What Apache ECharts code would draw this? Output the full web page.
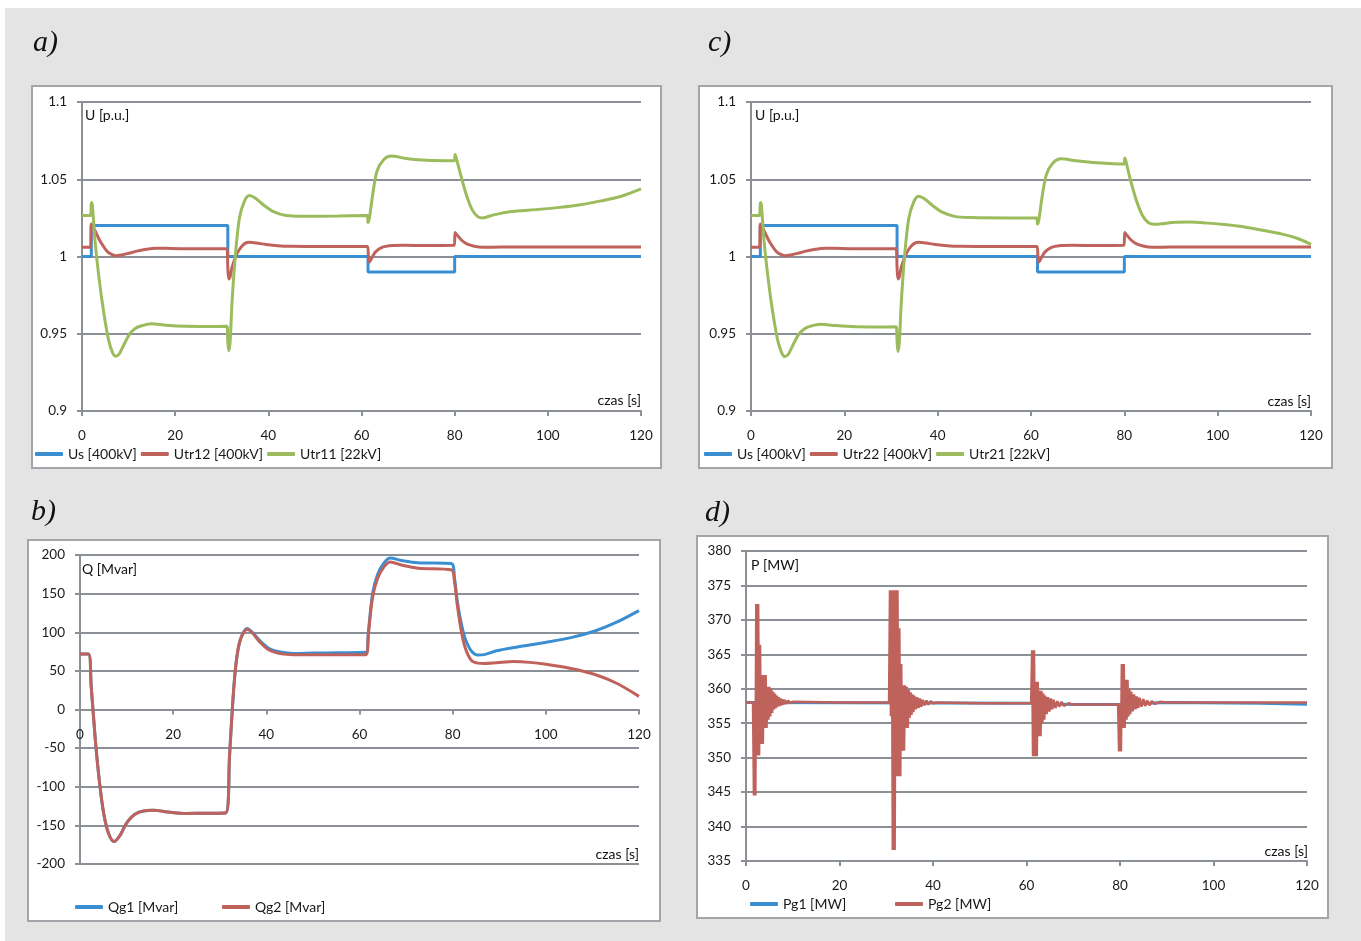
<!DOCTYPE html>
<html><head><meta charset="utf-8">
<script src="https://cdn.jsdelivr.net/npm/echarts@6/dist/echarts.min.js"></script>
<style>html,body{margin:0;padding:0;background:#fff}#c{width:1361px;height:941px}</style>
</head><body><div id="c"></div>
<script>
// ---------- data ----------
const xTicks = [0, 20, 40, 60, 80, 100, 120];
const panelLetters = ['a)', 'b)', 'c)', 'd)'];
const qRange = [-200, 200];

// panel a
const usA = [[0,1.0],[2,1.02],[31.3,1.0],[61.4,0.99],[80,1.0],[120,1.0]];
const utr12 = [[0,1.006],[1.8,1.006],[2.0,1.021],[2.4,1.019],[3,1.0155],[3.7,1.011],[4.5,1.007],[5.5,1.003],[6.5,1.0012],[7.3,1.0005],[8.5,1.001],[10,1.002],[11.5,1.0033],[13.5,1.0046],[16,1.0054],[18,1.0053],[22,1.005],[27,1.005],[31.1,1.005],[31.3,0.993],[31.5,0.9855],[31.8,0.987],[32.2,0.993],[33,1.0],[34,1.0055],[35,1.0085],[36,1.0093],[37.5,1.0087],[39.5,1.0078],[42,1.007],[45,1.0066],[50,1.0065],[55,1.0065],[61.3,1.0065],[61.5,0.999],[61.7,0.9965],[62.2,0.999],[63,1.003],[64.5,1.006],[66,1.007],[69,1.0073],[74,1.0071],[79.9,1.0072],[80.1,1.0155],[80.5,1.014],[81.5,1.0105],[82.5,1.0083],[84,1.0068],[86,1.006],[90,1.0061],[100,1.0062],[110,1.0062],[120,1.0062]];
const utr11 = [[0,1.0265],[1.8,1.0265],[2.0,1.035],[2.2,1.034],[2.8,1.01],[3.7,0.985],[4.6,0.965],[5.7,0.946],[6.6,0.9375],[7.3,0.9355],[8.0,0.937],[8.6,0.9405],[9.5,0.946],[10.4,0.9505],[11.5,0.9535],[12.6,0.955],[14.9,0.9565],[18,0.9555],[22.4,0.9548],[27,0.9547],[31.1,0.9548],[31.3,0.945],[31.5,0.939],[31.8,0.945],[32.2,0.97],[32.9,1.0],[33.8,1.025],[34.9,1.036],[35.9,1.0395],[37.1,1.038],[38.9,1.0335],[41.1,1.029],[43.8,1.0265],[47.3,1.026],[55,1.0262],[61.2,1.0265],[61.4,1.022],[61.7,1.025],[62.4,1.04],[63.3,1.055],[64.7,1.0625],[66.4,1.065],[69.6,1.0635],[74,1.0623],[79.9,1.062],[80.1,1.066],[80.4,1.063],[81.1,1.055],[82.5,1.04],[83.8,1.03],[85.1,1.0255],[86,1.025],[88.2,1.0268],[91.8,1.029],[98,1.0305],[102.5,1.0318],[107,1.0335],[111.4,1.036],[115.8,1.039],[120,1.0437]];

// panel c
const usC = [[0,1.0],[2,1.02],[31.3,1.0],[61.4,0.99],[80,1.0],[120,1.0]];
const utr22 = [[0,1.006],[1.8,1.006],[2.0,1.021],[2.4,1.019],[3,1.0155],[3.7,1.011],[4.5,1.007],[5.5,1.003],[6.5,1.0012],[7.3,1.0005],[8.5,1.001],[10,1.002],[11.5,1.0033],[13.5,1.0046],[16,1.0054],[18,1.0053],[22,1.005],[27,1.005],[31.1,1.005],[31.3,0.993],[31.5,0.9855],[31.8,0.987],[32.2,0.993],[33,1.0],[34,1.0055],[35,1.0085],[36,1.0093],[37.5,1.0087],[39.5,1.0078],[42,1.007],[45,1.0066],[50,1.0065],[55,1.0065],[61.3,1.0065],[61.5,0.999],[61.7,0.9965],[62.2,0.999],[63,1.003],[64.5,1.006],[66,1.007],[69,1.0073],[74,1.0071],[79.9,1.0072],[80.1,1.0155],[80.5,1.014],[81.5,1.0105],[82.5,1.0083],[84,1.0068],[86,1.006],[90,1.0061],[100,1.0062],[110,1.0062],[120,1.0062]];
const utr21 = [[0,1.0265],[1.8,1.0265],[2.0,1.035],[2.2,1.034],[2.8,1.01],[3.7,0.985],[4.6,0.965],[5.7,0.946],[6.6,0.9375],[7.3,0.9352],[8.0,0.9368],[8.6,0.9403],[9.5,0.9458],[10.4,0.9503],[11.5,0.9533],[12.6,0.9548],[14.9,0.9562],[18,0.9553],[22.4,0.9545],[27,0.9544],[31.1,0.9545],[31.3,0.945],[31.5,0.9385],[31.8,0.945],[32.2,0.97],[32.9,1.0],[33.8,1.0245],[34.9,1.0355],[35.9,1.039],[37.1,1.0375],[38.9,1.033],[41.1,1.0285],[43.8,1.0258],[47.3,1.0252],[55,1.025],[61.2,1.025],[61.4,1.021],[61.7,1.024],[62.4,1.039],[63.3,1.053],[64.7,1.0605],[66.4,1.0632],[69.6,1.062],[74,1.0607],[79.9,1.0598],[80.1,1.0638],[80.4,1.061],[81.1,1.052],[82.5,1.037],[83.8,1.027],[85.1,1.022],[86.5,1.0208],[88,1.0212],[91,1.0222],[94,1.0223],[98,1.0216],[102,1.0205],[106,1.019],[110,1.0168],[114,1.0143],[117,1.0118],[120,1.0078]];

// panel b
const qg1 = [[0,72],[1.8,72],[2.4,30],[3.3,-40],[4.2,-95],[5.1,-135],[6.1,-160],[7.3,-171],[8.6,-163],[9.9,-148],[11.7,-136],[13.9,-131],[15.7,-130.5],[19.3,-133],[22.8,-134.5],[27,-134.3],[31.3,-134],[32.1,-60],[32.8,10],[33.5,60],[34.4,90],[35.9,105],[37,100],[38.8,88],[40.6,79],[43.3,74],[45.9,72.5],[50,73],[55,73.5],[61.4,74],[61.9,100],[62.8,150],[63.9,175],[65.3,190],[66.6,196],[69,193],[72.6,190],[79.7,189],[80.4,170],[81,140],[81.9,110],[82.8,90],[84.1,75],[85.4,70.5],[86.8,71],[89.4,76],[93.9,81],[100.1,87],[105.4,93],[110.7,102],[115.2,113],[120,128]];
const qg2 = [[0,72],[1.8,72],[2.4,30],[3.3,-40],[4.2,-95],[5.1,-135],[6.1,-160],[7.3,-171],[8.6,-163],[9.9,-148],[11.7,-136],[13.9,-131],[15.7,-130.5],[19.3,-133],[22.8,-134.5],[27,-134.3],[31.3,-134],[32.1,-60],[32.8,10],[33.5,60],[34.4,90],[35.9,104],[37,99],[38.8,86],[40.6,77],[43.3,72],[45.9,71],[50,71],[55,71],[61.4,71],[61.9,97],[62.8,145],[63.9,170],[65.3,185],[66.6,191],[69,187],[72.6,183],[79.7,181],[80.4,165],[81,135],[81.9,100],[82.8,78],[84.1,63],[85.4,60],[86.8,59.5],[89.4,60.5],[93,62],[96.5,61],[100,58.5],[105.4,53],[110.7,45],[115.2,34],[120,17]];

// panel d
const pg1 = [[0,358],[61,357.9],[70,357.7],[79.6,357.7],[90,358],[110,357.9],[120,357.75]];
const pg2 = [[0,358],[1.5,358],
 [1.7,344.5],[1.9,358],[2.0,344.5],[2.2,372.3],[2.4,350.3],[2.6,372.3],[2.8,350.3],[3.0,366.4],[3.2,352],[3.4,362],[3.6,352],[3.8,362],[4.0,354.3],[4.2,362],[4.4,354.3],[4.6,360.3],[4.8,355.5],[5.0,360.3],[5.2,356],[5.4,360],[5.6,356.5],[5.8,359.6],[6.0,357],[6.2,359.3],[6.4,357.2],[6.6,359],[6.8,357.4],[7.0,358.8],[7.2,357.5],[7.4,358.6],[7.6,357.6],[7.8,358.5],[8.0,357.7],[8.3,358.4],[8.6,357.8],[9.0,358.3],[9.4,357.9],[10,358.1],[20,358],[30.6,358],
 [30.8,374.3],[31.0,356],[31.2,374.3],[31.4,336.6],[31.6,374.3],[31.8,336.6],[32.0,374.3],[32.2,347.3],[32.4,374.3],[32.6,347.3],[32.8,368.8],[33.0,347.3],[33.2,363.6],[33.4,351],[33.6,360.5],[33.8,351],[34.0,360.5],[34.2,354.3],[34.4,360.3],[34.6,354.3],[34.8,359.8],[35.0,355.8],[35.2,359.5],[35.4,356.2],[35.6,359.2],[35.8,356.6],[36.0,359],[36.3,357],[36.6,358.8],[36.9,357.2],[37.2,358.6],[37.5,357.4],[37.8,358.4],[38.2,357.6],[38.6,358.3],[39.0,357.7],[39.5,358.2],[40,357.9],[41,358],[50,357.9],[61,357.9],
 [61.2,365.6],[61.4,350.2],[61.6,365.6],[61.8,350.2],[62.0,361],[62.2,350.2],[62.4,361],[62.6,353.1],[62.8,359.7],[63.0,353.1],[63.2,359.7],[63.4,355],[63.6,359.3],[63.8,355.5],[64.0,359],[64.3,356.3],[64.6,358.8],[64.9,356.7],[65.2,358.6],[65.5,357],[65.8,358.4],[66.2,357.2],[66.6,358.2],[67.0,357.4],[67.5,358.1],[68,357.5],[69,357.9],[70,357.7],[79.6,357.7],
 [79.8,350.9],[80.0,357.7],[80.2,350.9],[80.4,363.6],[80.6,354.3],[80.8,363.6],[81.0,354.3],[81.2,361.3],[81.4,355.5],[81.6,361.3],[81.8,356],[82.0,360],[82.2,356.3],[82.4,359.6],[82.7,356.7],[83.0,359.2],[83.3,357],[83.6,358.9],[83.9,357.2],[84.2,358.7],[84.6,357.4],[85.0,358.5],[85.4,357.5],[85.8,358.3],[86.3,357.6],[86.8,358.2],[87.5,357.8],[88.5,358.1],[90,358],[110,358],[120,358]];

// ---------- styling ----------
const FONT = 'Lato';
const GRIDC = '#8b9097';
const TXT = '#1a1a1a';
const BLUE = '#3a8fd3', RED = '#c0625c', GREEN = '#9bbb5c';

function xAx(gi, offset) {
  return {type:'value', gridIndex:gi, min:xTicks[0], max:xTicks[xTicks.length-1], interval:xTicks[1]-xTicks[0],
    offset: offset || 0,
    axisLine:{show:true, onZero:false, lineStyle:{color:GRIDC, width:2}},
    axisTick:{show:true, length:5, lineStyle:{color:GRIDC, width:2}},
    axisLabel:{margin:18, color:TXT, fontSize:13.5, fontFamily:FONT},
    splitLine:{show:false}};
}
function yAx(gi, min, max, iv, margin) {
  return {type:'value', gridIndex:gi, min:min, max:max, interval:iv,
    axisLine:{show:true, lineStyle:{color:GRIDC, width:2}},
    axisTick:{show:true, length:5, lineStyle:{color:GRIDC, width:2}},
    axisLabel:{margin:margin, color:TXT, fontSize:13.5, fontFamily:FONT},
    splitLine:{show:true, lineStyle:{color:GRIDC, width:2}}};
}
function ln(name, data, color, gi, extra) {
  return Object.assign({type:'line', name:name, data:data, xAxisIndex:gi, yAxisIndex:gi,
    showSymbol:false, symbol:'none', lineStyle:{color:color, width:3}, itemStyle:{color:color},
    smooth:0.3, animation:false}, extra || {});
}
function txt(text, x, y, align, size, italic) {
  return {type:'text', x:x, y:y, z:50, silent:true,
    style:{text:text, fill:'#111', textAlign:align, align:align, textVerticalAlign:'middle', verticalAlign:'middle',
      font:(italic ? 'italic ' : '') + size + 'px ' + (italic ? '"Liberation Serif", "DejaVu Serif", serif' : FONT)}};
}
function box(x1, y1, x2, y2) {
  return {type:'rect', z:-5, silent:true, shape:{x:x1, y:y1, width:x2-x1, height:y2-y1},
    style:{fill:'#fff', stroke:'#a2a6ab', lineWidth:2}};
}
function lg(items, left, top, gap) {
  return {data:items, left:left, top:top, padding:0, itemWidth:28, itemHeight:4, itemGap:gap, icon:'roundRect',
    textStyle:{fontSize:14, color:TXT, fontFamily:FONT}, selectedMode:false};
}

const gridB = {left:80, top:555, width:559, height:309};
const zeroOffsetB = -gridB.height * (0 - qRange[0]) / (qRange[1] - qRange[0]);

const chart = echarts.init(document.getElementById('c'), null, {renderer:'canvas'});
chart.setOption({
  backgroundColor:'#fff',
  animation:false,
  graphic:[
    {type:'rect', z:-10, silent:true, shape:{x:5, y:8, width:1361, height:941}, style:{fill:'#e3e4e3'}},
    box(32, 86, 661, 468), box(699, 86, 1332, 468), box(28, 540, 660, 921), box(697, 536, 1328, 918),
    txt(panelLetters[0], 33, 43, 'left', 30, true),
    txt(panelLetters[2], 708, 43, 'left', 30, true),
    txt(panelLetters[1], 31, 512, 'left', 30, true),
    txt(panelLetters[3], 705, 513, 'left', 30, true),
    txt('U [p.u.]', 85, 115, 'left', 14), txt('U [p.u.]', 755, 115, 'left', 14),
    txt('Q [Mvar]', 82, 569, 'left', 14), txt('P [MW]', 751, 565, 'left', 14),
    txt('czas [s]', 641, 400, 'right', 14), txt('czas [s]', 1311, 401, 'right', 14),
    txt('czas [s]', 639, 854, 'right', 14), txt('czas [s]', 1308, 851, 'right', 14)
  ],
  grid:[
    {left:82, top:102, width:559, height:309},
    {left:751, top:102, width:560, height:309},
    gridB,
    {left:746, top:551, width:561, height:310}
  ],
  xAxis:[xAx(0), xAx(1), xAx(2, zeroOffsetB), xAx(3)],
  yAxis:[yAx(0, 0.9, 1.1, 0.05, 15), yAx(1, 0.9, 1.1, 0.05, 15), yAx(2, qRange[0], qRange[1], 50, 15), yAx(3, 335, 380, 5, 15)],
  legend:[
    lg(['Us [400kV]', 'Utr12 [400kV]', 'Utr11 [22kV]'], 35, 447, 4),
    lg(['Us [400kV]', 'Utr22 [400kV]', 'Utr21 [22kV]'], 704, 447, 4),
    lg(['Qg1 [Mvar]'], 75, 900, 4), lg(['Qg2 [Mvar]'], 222, 900, 4),
    lg(['Pg1 [MW]'], 750, 897, 4), lg(['Pg2 [MW]'], 895, 897, 4)
  ],
  series:[
    ln('Us [400kV]', usA, BLUE, 0, {smooth:false, step:'end'}),
    ln('Utr12 [400kV]', utr12, RED, 0),
    ln('Utr11 [22kV]', utr11, GREEN, 0),
    ln('Us [400kV]', usC, BLUE, 1, {smooth:false, step:'end'}),
    ln('Utr22 [400kV]', utr22, RED, 1),
    ln('Utr21 [22kV]', utr21, GREEN, 1),
    ln('Qg1 [Mvar]', qg1, BLUE, 2),
    ln('Qg2 [Mvar]', qg2, RED, 2),
    ln('Pg1 [MW]', pg1, BLUE, 3, {smooth:false}),
    ln('Pg2 [MW]', pg2, RED, 3, {smooth:false, lineStyle:{color:RED, width:2.5}})
  ]
});
</script></body></html>
